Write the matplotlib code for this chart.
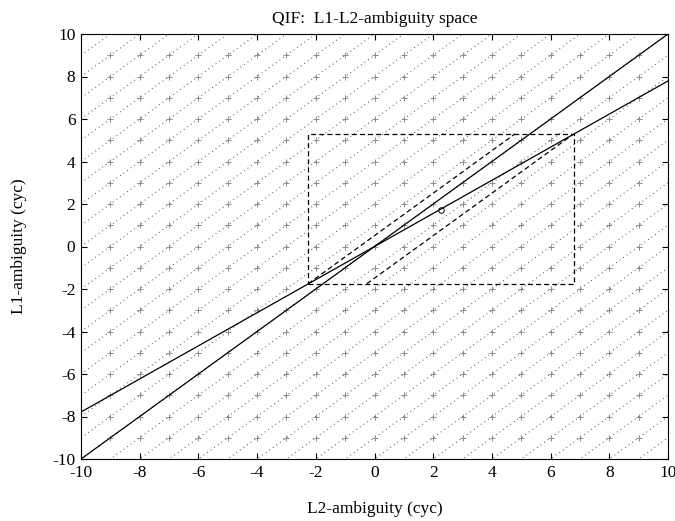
import numpy as np
import matplotlib
matplotlib.use("Agg")
import matplotlib.pyplot as plt

plt.rcParams['font.family'] = ['Liberation Serif', 'DejaVu Serif']
plt.rcParams['axes.unicode_minus'] = False

# ---- data ----
grid_n2 = list(range(-9, 10))          # integer L2 ambiguities
grid_n1 = list(range(-9, 10))          # integer L1 ambiguities
widelane_offsets = list(range(-19, 20))  # N1 - N2 = const lines
line_x = [-10, 10]
line_wl_y = [-10, 10]                  # N1 = N2
line_iono_y = [-7.79, 7.79]            # N1 = (f2/f1) N2
float_n2 = [2.27]
float_n1 = [1.74]
box_n2 = [-2.26, 6.79, 6.79, -2.26, -2.26]
box_n1 = [-1.75, -1.75, 5.30, 5.30, -1.75]
dash1_n2 = [-2.26, 4.79]
dash1_n1 = [-1.75, 5.30]
dash2_n2 = [-0.26, 6.79]
dash2_n1 = [-1.75, 5.30]
ticks = [-10, -8, -6, -4, -2, 0, 2, 4, 6, 8, 10]

fig = plt.figure(figsize=(6.75, 5.21), dpi=100)
ax = fig.add_axes([81/675, 62/521, 587/675, 425/521])

# wide-lane dotted lines
for c in widelane_offsets:
    xs = np.array(line_x, dtype=float)
    ax.plot(xs, xs + c, color='#4a4a4a', lw=0.7, linestyle=(0, (1, 3.5)), zorder=1)

# integer grid
G2, G1 = np.meshgrid(grid_n2, grid_n1)
ax.plot(G2.ravel(), G1.ravel(), linestyle='none', marker='+', color='#8c8c8c',
        markersize=5, markeredgewidth=0.7, zorder=2)

# solid lines
ax.plot(line_x, line_wl_y, color='black', lw=0.9, zorder=3)
ax.plot(line_x, line_iono_y, color='black', lw=0.9, zorder=3)

# search box and parallelogram
ax.plot(box_n2, box_n1, color='black', lw=0.9, linestyle=(0, (4, 2.5)), zorder=3)
ax.plot(dash1_n2, dash1_n1, color='black', lw=0.9, linestyle=(0, (4, 2.5)), zorder=3)
ax.plot(dash2_n2, dash2_n1, color='black', lw=0.9, linestyle=(0, (4, 2.5)), zorder=3)

# float solution
ax.plot(float_n2, float_n1, linestyle='none', marker='o', markerfacecolor='none',
        markeredgecolor='black', markersize=4, markeredgewidth=0.7, zorder=4)

ax.set_xlim(-10, 10)
ax.set_ylim(-10, 10)
ax.set_xticks(ticks)
ax.set_yticks(ticks)
ax.set_xticklabels([str(t) for t in ticks])
ax.set_yticklabels([str(t) for t in ticks])
ax.tick_params(direction='in', length=4, width=0.8, top=True, right=True,
               labelsize=12.5, pad=4)
for s in ax.spines.values():
    s.set_linewidth(0.8)

ax.set_title('QIF:  L1-L2-ambiguity space', fontsize=12.5, pad=8)
ax.set_xlabel('L2-ambiguity (cyc)', fontsize=12.5, labelpad=15)
ax.set_ylabel('L1-ambiguity (cyc)', fontsize=12.5, labelpad=18)

fig.savefig('out.png', dpi=100)
